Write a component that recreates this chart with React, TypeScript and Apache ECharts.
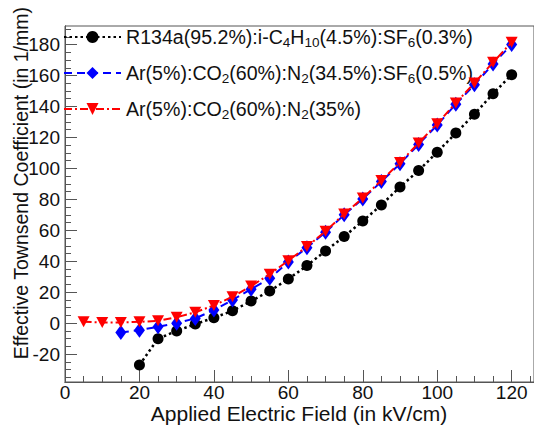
import React, { useEffect, useRef } from "react";
import * as echarts from "echarts";

const FONT = "'Liberation Sans', Arial, Helvetica, sans-serif";

// Series names (plain) and legend labels (with subscripts)
const seriesNames = [
  "R134a(95.2%):i-C4H10(4.5%):SF6(0.3%)",
  "Ar(5%):CO2(60%):N2(34.5%):SF6(0.5%)",
  "Ar(5%):CO2(60%):N2(35%)",
];
const legendLabels = [
  "R134a(95.2%):i-C{s|4}H{s|10}(4.5%):SF{s|6}(0.3%)",
  "Ar(5%):CO{s|2}(60%):N{s|2}(34.5%):SF{s|6}(0.5%)",
  "Ar(5%):CO{s|2}(60%):N{s|2}(35%)",
];

// Applied electric field (kV/cm)
const fieldR134a = [20, 25, 30, 35, 40, 45, 50, 55, 60, 65, 70, 75, 80, 85, 90, 95, 100, 105, 110, 115, 120];
const fieldArSF6 = [15, 20, 25, 30, 35, 40, 45, 50, 55, 60, 65, 70, 75, 80, 85, 90, 95, 100, 105, 110, 115, 120];
const fieldArN2 = [5, 10, 15, 20, 25, 30, 35, 40, 45, 50, 55, 60, 65, 70, 75, 80, 85, 90, 95, 100, 105, 110, 115, 120];

// Effective Townsend coefficient (1/mm)
const alphaR134a = [-27, -10, -5, -0.6, 3.5, 8, 14.3, 20.8, 28.5, 37.2, 46.7, 56, 66, 76.4, 88, 98.6, 110.5, 122.8, 135, 148.3, 160.5];
const alphaArSF6 = [-6, -4.5, -2.3, 0, 3.1, 8.5, 15, 22, 29, 39.5, 48.8, 58.8, 70, 80.3, 91.5, 103, 115.5, 128, 141.5, 154, 167.5, 180];
const alphaArN2 = [0.9, 0.5, 0.5, 0.9, 1.5, 3.8, 7, 11.5, 17.1, 24, 31.6, 40.4, 49.5, 59.4, 70.6, 80.8, 92.2, 103.8, 116.4, 128.9, 142.3, 155.2, 168.5, 181.5];

// Axis ticks
const xMajorTicks = [0, 20, 40, 60, 80, 100, 120];
const xAllTicks = [0, 5, 10, 15, 20, 25, 30, 35, 40, 45, 50, 55, 60, 65, 70, 75, 80, 85, 90, 95, 100, 105, 110, 115, 120, 125];
const yMajorTicks = [-20, 0, 20, 40, 60, 80, 100, 120, 140, 160, 180];
const yAllTicks = [-35, -30, -25, -20, -15, -10, -5, 0, 5, 10, 15, 20, 25, 30, 35, 40, 45, 50, 55, 60, 65, 70, 75, 80, 85, 90, 95, 100, 105, 110, 115, 120, 125, 130, 135, 140, 145, 150, 155, 160, 165, 170, 175, 180, 185, 190];

const X_MIN = 0;
const X_MAX = 126;
const Y_MIN = -38;
const Y_MAX = 192;

const xTitle = "Applied Electric Field (in kV/cm)";
const yTitle = "Effective Townsend Coefficient (in 1/mm)";

const pairs = (xs: number[], ys: number[]) => xs.map((x, i) => [x, ys[i]]);

export default function App() {
  const ref = useRef<HTMLDivElement>(null);

  useEffect(() => {
    if (!ref.current) return;
    const chart = echarts.init(ref.current, null, { renderer: "svg" });
    const axisColor = "#555";
    const labelColor = "#111";

    const xAxisBase = {
      type: "value",
      min: X_MIN,
      max: X_MAX,
      position: "bottom",
      splitLine: { show: false },
      axisLine: { show: true, onZero: false, lineStyle: { color: axisColor, width: 1 } },
    };
    const yAxisBase = {
      type: "value",
      min: Y_MIN,
      max: Y_MAX,
      position: "left",
      splitLine: { show: false },
      axisLine: { show: true, onZero: false, lineStyle: { color: axisColor, width: 1 } },
    };

    const option: any = {
      animation: false,
      backgroundColor: "#ffffff",
      grid: {
        left: 65,
        right: -1.4,
        top: 26,
        bottom: 43,
        show: true,
        borderColor: axisColor,
        borderWidth: 1,
        backgroundColor: "transparent",
      },
      xAxis: [
        {
          ...xAxisBase,
          axisTick: { show: true, inside: true, length: 12, customValues: xMajorTicks, lineStyle: { color: axisColor } },
          axisLabel: {
            show: true,
            customValues: xMajorTicks,
            margin: 1,
            fontSize: 19,
            fontFamily: FONT,
            color: labelColor,
          },
        },
        {
          ...xAxisBase,
          axisTick: { show: true, inside: true, length: 6, customValues: xAllTicks, lineStyle: { color: axisColor } },
          axisLabel: { show: false },
        },
      ],
      yAxis: [
        {
          ...yAxisBase,
          axisTick: { show: true, inside: true, length: 12, customValues: yMajorTicks, lineStyle: { color: axisColor } },
          axisLabel: {
            show: true,
            customValues: yMajorTicks,
            margin: 5,
            fontSize: 19,
            fontFamily: FONT,
            color: labelColor,
          },
        },
        {
          ...yAxisBase,
          axisTick: { show: true, inside: true, length: 6, customValues: yAllTicks, lineStyle: { color: axisColor } },
          axisLabel: { show: false },
        },
      ],
      legend: {
        orient: "vertical",
        left: 63,
        top: 25,
        padding: 0,
        itemGap: 12,
        itemWidth: 57,
        itemHeight: 15,
        itemStyle: { borderWidth: 0 },
        selectedMode: false,
        data: seriesNames,
        formatter: (name: string) => legendLabels[seriesNames.indexOf(name)],
        textStyle: {
          fontSize: 19.6,
          fontFamily: FONT,
          color: labelColor,
          lineHeight: 24,
          rich: {
            s: {
              fontSize: 13.5,
              fontFamily: FONT,
              color: labelColor,
              lineHeight: 10,
              verticalAlign: "bottom",
            },
          },
        },
      },
      series: [
        {
          name: seriesNames[0],
          type: "line",
          data: pairs(fieldR134a, alphaR134a),
          symbol: "circle",
          symbolSize: 11,
          itemStyle: { color: "#000000" },
          lineStyle: { color: "#000000", width: 2.5, type: [2.5, 3] },
          z: 2,
        },
        {
          name: seriesNames[1],
          type: "line",
          data: pairs(fieldArSF6, alphaArSF6),
          symbol: "diamond",
          symbolSize: [11, 15],
          itemStyle: { color: "#0000ff" },
          lineStyle: { color: "#0000ff", width: 2, type: [8, 5] },
          z: 3,
        },
        {
          name: seriesNames[2],
          type: "line",
          data: pairs(fieldArN2, alphaArN2),
          symbol: "triangle",
          symbolRotate: 180,
          symbolSize: [12, 11],
          itemStyle: { color: "#ff0000" },
          lineStyle: { color: "#ff0000", width: 2, type: [8, 3, 2, 3] },
          z: 4,
        },
      ],
      graphic: [
        {
          type: "text",
          x: 21,
          y: 7,
          rotation: Math.PI / 2,
          style: {
            text: yTitle,
            fontSize: 19.5,
            fontFamily: FONT,
            fill: labelColor,
            align: "right",
            verticalAlign: "middle",
          },
        },
        {
          type: "text",
          x: 299,
          y: 413.5,
          style: {
            text: xTitle,
            fontSize: 21,
            fontFamily: FONT,
            fill: labelColor,
            align: "center",
            verticalAlign: "middle",
          },
        },
      ],
    };

    chart.setOption(option);
    return () => chart.dispose();
  }, []);

  return (
    <div
      ref={ref}
      style={{ position: "fixed", left: 0, top: 0, width: 534, height: 425, background: "#fff" }}
    />
  );
}
